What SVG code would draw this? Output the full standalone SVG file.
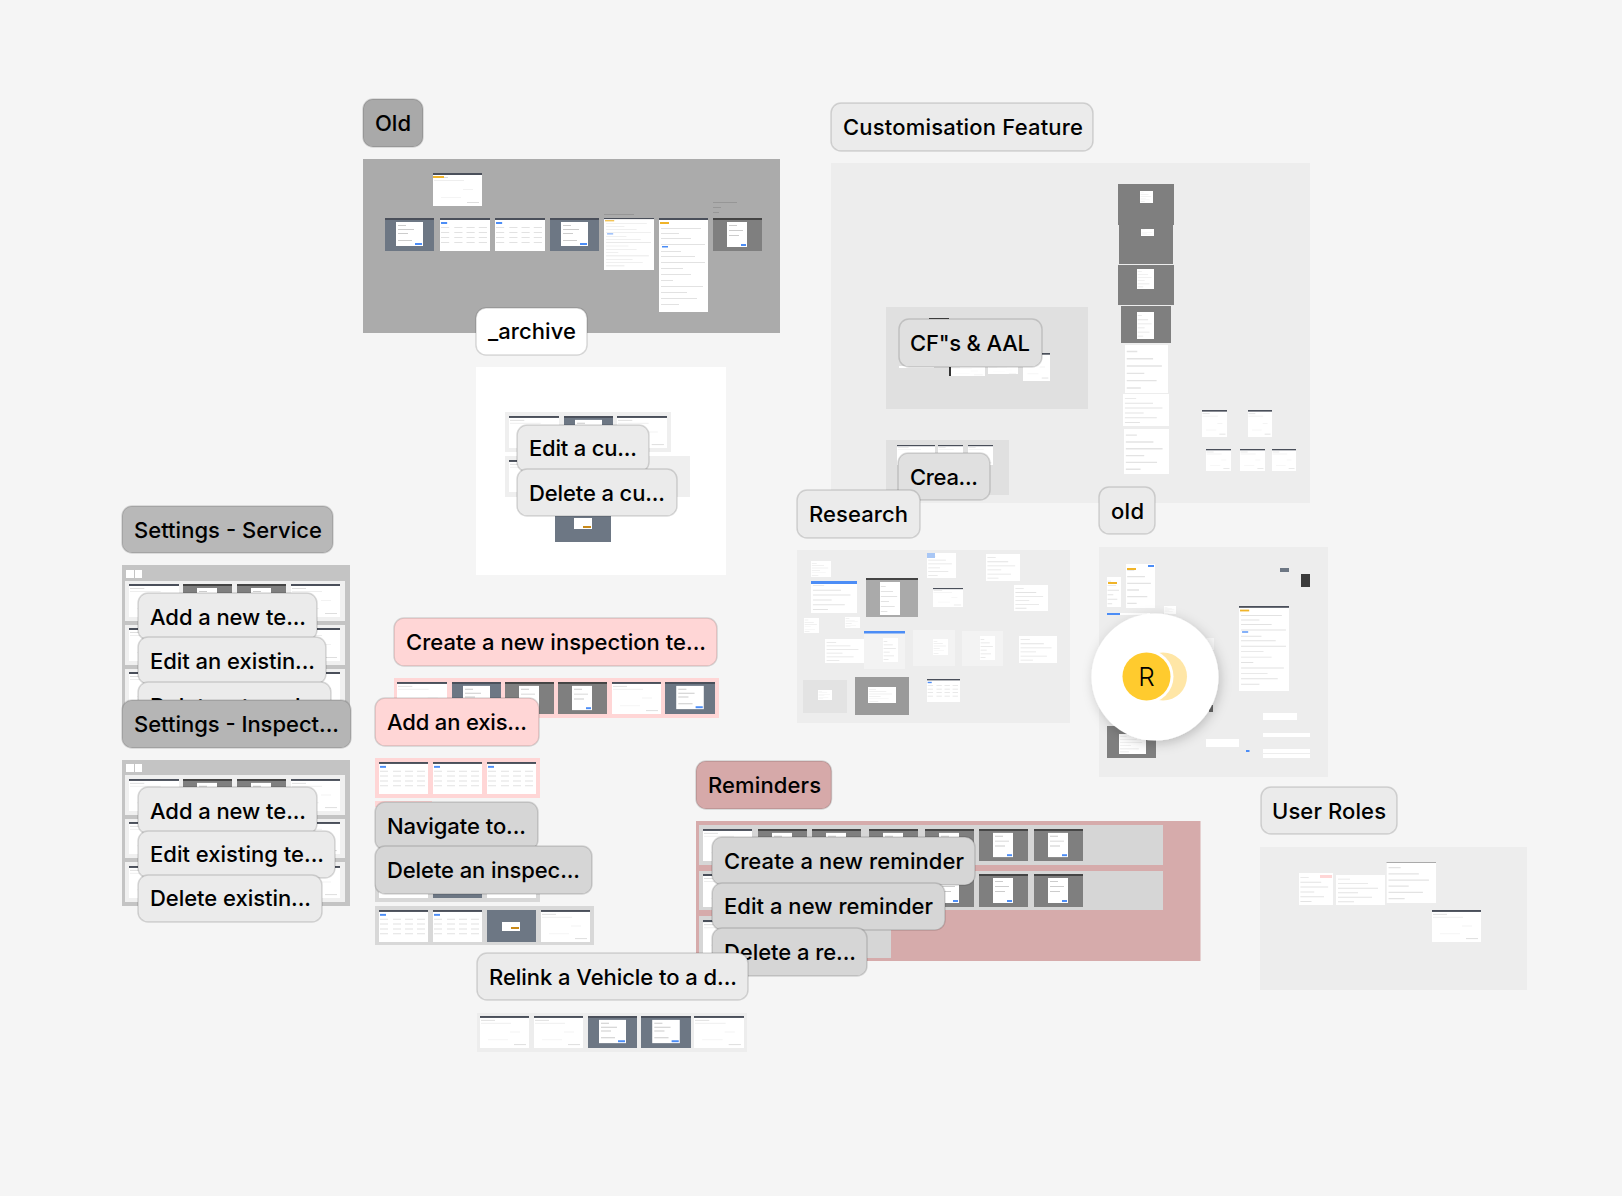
<svg xmlns="http://www.w3.org/2000/svg" width="1622" height="1196" viewBox="0 0 1622 1196">
<style>
text{font-family:Inter,"Liberation Sans",sans-serif;font-size:22px;font-weight:500;fill:#000}
.lb{stroke:#000;stroke-opacity:.14;stroke-width:1.500}
.bar{fill:#4a4f5a}
.ln{fill:#dedede}
.bl{fill:#4c8df6}
</style>
<defs>
<symbol id="lt" viewBox="0 0 49 33" preserveAspectRatio="none">
<rect width="49" height="33" fill="#fff"/><rect width="49" height="2" class="bar"/>
<rect x="1" y="4" width="14" height="1" class="ln"/><rect x="1" y="7" width="30" height="1" fill="#eee"/><rect x="30" y="16" width="10" height="1" fill="#f2f2f2"/><rect x="8" y="24" width="20" height="1" fill="#f4f4f4"/><rect x="34" y="29" width="12" height="1" class="ln"/>
</symbol>
<symbol id="tb" viewBox="0 0 49 33" preserveAspectRatio="none">
<rect width="49" height="33" fill="#fff"/><rect width="49" height="2" class="bar"/>
<rect x="1" y="4" width="6" height="2" class="bl"/>
<path d="M1 9h8v1H1zM14 9h8v1h-8zM26 9h8v1h-8zM38 9h8v1h-8zM1 14h8v1H1zM14 14h8v1h-8zM26 14h8v1h-8zM38 14h8v1h-8zM1 19h8v1H1zM14 19h8v1h-8zM26 19h8v1h-8zM38 19h8v1h-8zM1 24h8v1H1zM14 24h8v1h-8zM26 24h8v1h-8zM38 24h8v1h-8z" fill="#e2e2e2"/>
</symbol>
<symbol id="dk" viewBox="0 0 49 33" preserveAspectRatio="none">
<rect width="49" height="33" fill="#6d7784"/><rect width="49" height="2" fill="#4a4f5a"/>
<rect x="11" y="4" width="27" height="24" fill="#fff"/>
<path d="M13 7h8v1h-8zM13 11h16v1H13zM13 15h10v1H13zM13 22h14v1H13z" fill="#ccc"/>
<rect x="30" y="25" width="7" height="2" class="bl"/>
</symbol>
<symbol id="gy" viewBox="0 0 49 33" preserveAspectRatio="none">
<rect width="49" height="33" fill="#7f7f7f"/><rect width="49" height="2" fill="#444"/>
<rect x="14" y="4" width="20" height="25" fill="#fff"/>
<path d="M16 7h8v1h-8zM16 12h14v1H16zM16 17h10v1H16z" fill="#ccc"/>
<rect x="28" y="26" width="5" height="2" class="bl"/>
</symbol>
<symbol id="pl" viewBox="0 0 49 33" preserveAspectRatio="none">
<rect width="49" height="33" fill="#fff"/>
<path d="M2 4h12v1H2zM2 9h30v1H2zM2 14h40v1H2zM2 19h20v1H2zM2 24h34v1H2zM2 29h16v1H2z" fill="#e3e3e3"/>
</symbol>
<symbol id="lg" viewBox="0 0 49 94" preserveAspectRatio="none">
<rect width="49" height="94" fill="#fff"/><rect width="49" height="2" class="bar"/>
<rect x="1" y="4" width="9" height="2" fill="#f0b429"/>
<path d="M2 10h40v1H2zM2 15h18v1H2zM2 20h30v1H2zM2 26h44v1H2zM2 33h20v1H2zM2 38h34v1H2zM2 44h44v1H2zM2 50h22v1H2zM2 56h30v1H2zM2 62h12v1H2zM2 68h42v1H2zM2 74h26v1H2zM2 80h36v1H2zM2 86h18v1H2z" fill="#e2e2e2"/>
<rect x="3" y="28" width="6" height="1.500" class="bl"/>
</symbol>
<filter id="sh" x="-30%" y="-30%" width="160%" height="160%"><feDropShadow dx="2" dy="3" stdDeviation="6" flood-color="#000" flood-opacity=".2"/></filter>
</defs>
<rect width="1622" height="1196" fill="#f5f5f5"/>

<g id="section-old">
<rect x="363" y="159" width="417" height="174" fill="#ababab"/>
<use href="#lt" x="433" y="173" width="49" height="33"/>
<rect x="433" y="176" width="11" height="2" fill="#f0b429"/>
<use href="#dk" x="385" y="218" width="49" height="33"/>
<use href="#tb" x="440" y="218" width="50" height="33"/>
<use href="#tb" x="495" y="218" width="50" height="33"/>
<use href="#dk" x="550" y="218" width="49" height="33"/>
<use href="#lg" x="604" y="218" width="50" height="52"/>
<use href="#lg" x="659" y="218" width="49" height="94"/>
<use href="#gy" x="713" y="218" width="49" height="33"/>
<path d="M604 214h30v1h-30zM713 202h24v1h-24zM713 207h8v1h-8zM713 212h6v1h-6z" fill="#969696"/>
</g>
<g id="node-old"><rect class="lb" x="363" y="99" width="60" height="48" rx="10" fill="#a9a9a9"/><text x="375" y="131" textLength="36">Old</text></g>

<g id="section-customisation">
<rect x="831" y="163" width="479" height="340" fill="#ededed"/>
<rect x="886" y="307" width="202" height="102" fill="#e0e0e0"/>
<rect x="929" y="318" width="20" height="2" fill="#444"/>
<rect x="899" y="366" width="35" height="2" fill="#fff"/>
<use href="#lt" x="949" y="366" width="36" height="10"/><rect x="949" y="366" width="2" height="10" fill="#333"/>
<use href="#lt" x="988" y="366" width="30" height="8"/>
<use href="#lt" x="1023" y="353" width="27" height="28"/>
<rect x="886" y="440" width="123" height="55" fill="#e0e0e0"/>
<use href="#lt" x="897" y="445" width="38" height="20"/>
<use href="#lt" x="938" y="445" width="25" height="20"/>
<use href="#lt" x="968" y="445" width="25" height="20"/>
<g id="cf-stack">
<rect x="1118" y="184" width="56" height="41" fill="#7f7f7f"/><use href="#pl" x="1140" y="191" width="13" height="12"/>
<rect x="1119" y="225" width="54" height="39" fill="#7f7f7f"/><use href="#pl" x="1141" y="229" width="13" height="7"/>
<rect x="1118" y="265" width="56" height="40" fill="#7f7f7f"/><use href="#pl" x="1137" y="269" width="17" height="20"/>
<rect x="1121" y="306" width="50" height="37" fill="#7f7f7f"/><use href="#pl" x="1137" y="312" width="17" height="27"/>
<use href="#pl" x="1125" y="345" width="43" height="48"/>
<use href="#pl" x="1123" y="394" width="46" height="32"/>
<use href="#pl" x="1124" y="429" width="45" height="45"/>
</g>
<use href="#lt" x="1202" y="410" width="25" height="27"/>
<use href="#lt" x="1248" y="410" width="24" height="27"/>
<use href="#lt" x="1206" y="449" width="25" height="22"/>
<use href="#lt" x="1240" y="449" width="25" height="22"/>
<use href="#lt" x="1272" y="449" width="24" height="22"/>
</g>
<g id="node-customisation"><rect class="lb" x="831" y="103" width="262" height="48" rx="10" fill="#ebebeb"/><text x="843" y="135" textLength="240">Customisation Feature</text></g>
<g id="node-cfs"><rect class="lb" x="899" y="319" width="143" height="48" rx="10" fill="#e0e0e0"/><text x="910" y="351" textLength="120">CF"s &amp; AAL</text></g>
<g id="node-crea"><rect class="lb" x="898" y="453" width="92" height="47" rx="10" fill="#e0e0e0"/><text x="910" y="485" textLength="68">Crea...</text></g>

<g id="section-archive">
<rect x="476" y="367" width="250" height="208" fill="#fff"/>
<rect x="505" y="412" width="166" height="40" fill="#efefef"/>
<use href="#lt" x="509" y="416" width="50" height="32"/>
<use href="#dk" x="564" y="416" width="49" height="32"/>
<use href="#lt" x="617" y="416" width="50" height="32"/>
<rect x="505" y="456" width="185" height="41" fill="#efefef"/>
<use href="#lt" x="509" y="460" width="50" height="32"/>
<rect x="555" y="510" width="56" height="32" fill="#6d7784"/>
<rect x="574" y="518" width="18" height="11" fill="#fff"/><rect x="583" y="526" width="8" height="2" fill="#c98a1a"/>
</g>
<g id="node-archive"><rect class="lb" x="476" y="308" width="111" height="47" rx="10" fill="#fff"/><text x="488" y="339" textLength="88">_archive</text></g>
<g id="node-edit-cu"><rect class="lb" x="517" y="425" width="132" height="47" rx="10" fill="#ebebeb"/><text x="529" y="456" textLength="108">Edit a cu...</text></g>
<g id="node-delete-cu"><rect class="lb" x="517" y="469" width="160" height="47" rx="10" fill="#ebebeb"/><text x="529" y="501" textLength="136">Delete a cu...</text></g>

<g id="section-settings-service">
<rect x="122" y="565" width="228" height="145" fill="#c4c4c4"/>
<rect x="126" y="570" width="8" height="8" fill="#fff"/><rect x="135" y="570" width="7" height="8" fill="#fff"/>
<rect x="125" y="581" width="220" height="40" fill="#f0f0f0"/><rect x="125" y="625" width="220" height="40" fill="#f0f0f0"/><rect x="125" y="669" width="220" height="41" fill="#f0f0f0"/>
<use href="#lt" x="129" y="584" width="50" height="33"/><use href="#gy" x="183" y="584" width="49" height="33"/><use href="#gy" x="237" y="584" width="49" height="33"/><use href="#lt" x="291" y="584" width="49" height="33"/>
<use href="#lt" x="129" y="628" width="50" height="33"/><use href="#lt" x="291" y="628" width="49" height="33"/>
<use href="#lt" x="129" y="672" width="50" height="33"/><use href="#lt" x="291" y="672" width="49" height="33"/>
</g>
<g id="node-settings-service"><rect class="lb" x="122" y="506" width="211" height="47" rx="10" fill="#b8b8b8"/><text x="134" y="538" textLength="188">Settings - Service</text></g>
<g id="node-add-te-1"><rect class="lb" x="138" y="593" width="179" height="47" rx="10" fill="#ebebeb"/><text x="150" y="625" textLength="156">Add a new te...</text></g>
<g id="node-edit-existin"><rect class="lb" x="138" y="637" width="188" height="47" rx="10" fill="#ebebeb"/><text x="150" y="669" textLength="165">Edit an existin...</text></g>
<g id="node-delete-templ"><rect class="lb" x="138" y="682" width="193" height="47" rx="10" fill="#ebebeb"/><text x="150" y="714">Delete a templ...</text></g>
<g id="node-settings-inspect"><rect class="lb" x="122" y="700" width="229" height="48" rx="10" fill="#b5b5b5"/><text x="134" y="732" textLength="205">Settings - Inspect...</text></g>

<g id="section-settings-inspect">
<rect x="122" y="760" width="228" height="146" fill="#c4c4c4"/>
<rect x="126" y="764" width="8" height="8" fill="#fff"/><rect x="135" y="764" width="7" height="8" fill="#fff"/>
<rect x="125" y="775" width="220" height="40" fill="#f0f0f0"/><rect x="125" y="819" width="220" height="39" fill="#f0f0f0"/><rect x="125" y="862" width="220" height="40" fill="#f0f0f0"/>
<use href="#lt" x="129" y="779" width="50" height="32"/><use href="#gy" x="183" y="779" width="49" height="32"/><use href="#gy" x="237" y="779" width="49" height="32"/><use href="#lt" x="291" y="779" width="49" height="32"/>
<use href="#lt" x="129" y="822" width="50" height="32"/><use href="#lt" x="291" y="822" width="49" height="32"/>
<use href="#lt" x="129" y="866" width="50" height="32"/><use href="#lt" x="291" y="866" width="49" height="32"/>
</g>
<g id="node-add-te-2"><rect class="lb" x="138" y="787" width="179" height="47" rx="10" fill="#ebebeb"/><text x="150" y="819" textLength="156">Add a new te...</text></g>
<g id="node-edit-existing"><rect class="lb" x="138" y="831" width="197" height="47" rx="10" fill="#ebebeb"/><text x="150" y="862" textLength="174">Edit existing te...</text></g>
<g id="node-delete-existin"><rect class="lb" x="138" y="875" width="184" height="47" rx="10" fill="#ebebeb"/><text x="150" y="906" textLength="161">Delete existin...</text></g>

<g id="section-create-inspection">
<rect x="394" y="678" width="325" height="40" fill="#ffd6d6"/>
<use href="#lt" x="397" y="682" width="50" height="32"/><use href="#dk" x="452" y="682" width="49" height="32"/><use href="#gy" x="505" y="682" width="49" height="32"/><use href="#gy" x="558" y="682" width="49" height="32"/><use href="#lt" x="612" y="682" width="49" height="32"/><use href="#dk" x="665" y="682" width="50" height="32"/>
</g>
<g id="node-create-inspection"><rect class="lb" x="394" y="618" width="323" height="48" rx="10" fill="#ffd6d6"/><text x="406" y="650" textLength="300">Create a new inspection te...</text></g>
<g id="section-add-exis">
<rect x="375" y="758" width="165" height="40" fill="#ffd6d6"/>
<use href="#tb" x="379" y="762" width="49" height="32"/><use href="#tb" x="433" y="762" width="49" height="32"/><use href="#tb" x="487" y="762" width="49" height="32"/>
<rect x="375" y="801" width="57" height="6" fill="#ffd6d6"/>
</g>
<g id="node-add-exis"><rect class="lb" x="375" y="698" width="164" height="48" rx="10" fill="#ffd6d6"/><text x="387" y="730" textLength="140">Add an exis...</text></g>
<g id="section-delete-inspec">
<rect x="375" y="880" width="165" height="22" fill="#d8d8d8"/>
<rect x="379" y="880" width="49" height="18" fill="#fff"/><rect x="433" y="880" width="49" height="18" fill="#6d7784"/><rect x="487" y="880" width="49" height="18" fill="#fff"/>
<rect x="375" y="906" width="219" height="39" fill="#d8d8d8"/>
<use href="#tb" x="379" y="910" width="49" height="32"/><use href="#tb" x="433" y="910" width="49" height="32"/><rect x="487" y="910" width="49" height="32" fill="#6d7784"/><use href="#lt" x="541" y="910" width="49" height="32"/>
<rect x="502" y="922" width="18" height="9" fill="#fff"/><rect x="511" y="927" width="8" height="2" fill="#c98a1a"/>
</g>
<g id="node-navigate"><rect class="lb" x="375" y="802" width="163" height="48" rx="10" fill="#d6d6d6"/><text x="387" y="834" textLength="139">Navigate to...</text></g>
<g id="node-delete-inspec"><rect class="lb" x="375" y="846" width="217" height="48" rx="10" fill="#d6d6d6"/><text x="387" y="878" textLength="193">Delete an inspec...</text></g>

<g id="section-reminders">
<rect x="696" y="821" width="504.500" height="140" fill="#d6abab"/>
<rect x="699" y="825" width="464" height="40" fill="#d6d6d6"/><rect x="699" y="871" width="464" height="39" fill="#d6d6d6"/><rect x="699" y="916" width="192" height="42" fill="#d6d6d6"/>
<use href="#lt" x="703" y="829" width="49" height="32"/><use href="#gy" x="758" y="829" width="49" height="32"/><use href="#gy" x="812" y="829" width="49" height="32"/><use href="#gy" x="869" y="829" width="49" height="32"/><use href="#gy" x="925" y="829" width="49" height="32"/><use href="#gy" x="979" y="829" width="49" height="32"/><use href="#gy" x="1034" y="829" width="49" height="32"/>
<use href="#lt" x="703" y="874" width="49" height="33"/><use href="#gy" x="925" y="874" width="49" height="33"/><use href="#gy" x="979" y="874" width="49" height="33"/><use href="#gy" x="1034" y="874" width="49" height="33"/>
<use href="#lt" x="703" y="920" width="49" height="34"/>
</g>
<g id="node-reminders"><rect class="lb" x="696" y="761" width="135.500" height="48" rx="10" fill="#d6a9a9"/><text x="708" y="793" textLength="113">Reminders</text></g>
<g id="node-create-reminder"><rect class="lb" x="712" y="837" width="263" height="48" rx="10" fill="#d6d6d6"/><text x="724" y="869" textLength="240">Create a new reminder</text></g>
<g id="node-edit-reminder"><rect class="lb" x="712" y="883" width="233" height="47" rx="10" fill="#d6d6d6"/><text x="724" y="914" textLength="209">Edit a new reminder</text></g>
<g id="node-delete-reminder"><rect class="lb" x="712" y="928" width="155" height="48" rx="10" fill="#d6d6d6"/><text x="724" y="960" textLength="132">Delete a re...</text></g>

<g id="section-relink">
<rect x="477" y="1013" width="270" height="39" fill="#ededed"/>
<use href="#lt" x="480" y="1016" width="49" height="32"/><use href="#lt" x="534" y="1016" width="49" height="32"/><use href="#dk" x="588" y="1016" width="49" height="32"/><use href="#dk" x="641" y="1016" width="50" height="32"/><use href="#lt" x="694" y="1016" width="50" height="32"/>
</g>
<g id="node-relink"><rect class="lb" x="477" y="953" width="271" height="47" rx="10" fill="#ebebeb"/><text x="489" y="985" textLength="248">Relink a Vehicle to a d...</text></g>

<g id="section-research">
<rect x="797" y="550" width="273" height="173" fill="#ededed"/>
<use href="#pl" x="811" y="561" width="20" height="16"/>
<use href="#pl" x="811" y="581" width="46" height="32"/><rect x="811" y="581" width="46" height="3" class="bl"/>
<rect x="866" y="578" width="52" height="39" fill="#aaa"/><rect x="866" y="578" width="52" height="2" fill="#444"/><use href="#pl" x="880" y="582" width="20" height="33"/>
<use href="#pl" x="927" y="553" width="29" height="25"/><rect x="927" y="553" width="8" height="5" fill="#a9c7f5"/>
<use href="#pl" x="986" y="554" width="34" height="27"/>
<use href="#lt" x="933" y="588" width="30" height="19"/>
<use href="#pl" x="1014" y="585" width="34" height="26"/>
<use href="#pl" x="804" y="618" width="15" height="15"/>
<use href="#pl" x="845" y="617" width="15" height="11"/>
<use href="#pl" x="825" y="639" width="39" height="24"/>
<rect x="864" y="631" width="41" height="38" fill="#f3f3f3"/><rect x="864" y="631" width="41" height="2.500" class="bl"/><use href="#pl" x="883" y="638" width="15" height="24"/>
<rect x="913" y="630" width="42" height="36" fill="#f3f3f3"/><use href="#pl" x="933" y="639" width="15" height="16"/>
<rect x="962" y="631" width="41" height="35" fill="#f3f3f3"/><use href="#pl" x="980" y="636" width="15" height="24"/>
<use href="#pl" x="1019" y="636" width="38" height="27"/>
<rect x="803" y="680" width="44" height="33" fill="#e3e3e3"/><use href="#pl" x="818" y="690" width="14" height="10"/>
<rect x="855" y="677" width="54" height="38" fill="#9a9a9a"/><use href="#pl" x="868" y="687" width="28" height="16"/>
<use href="#tb" x="927" y="679" width="33" height="23"/>
</g>
<g id="node-research"><rect class="lb" x="797" y="490" width="123" height="48" rx="10" fill="#ebebeb"/><text x="809" y="522" textLength="99">Research</text></g>

<g id="section-old-2">
<rect x="1099" y="547" width="229" height="230" fill="#ededed"/>
<use href="#pl" x="1107" y="577" width="14" height="30"/><rect x="1108" y="582" width="9" height="2" fill="#f0b429"/>
<use href="#pl" x="1126" y="564" width="29" height="44"/><rect x="1127" y="568" width="9" height="2" fill="#f0b429"/><rect x="1148" y="565" width="6" height="2" class="bl"/>
<rect x="1107" y="613" width="13" height="2" class="bl"/><rect x="1120" y="613" width="30" height="2" fill="#fff"/>
<use href="#pl" x="1164" y="606" width="12" height="8"/>
<rect x="1280" y="568" width="9" height="4" fill="#6d7784"/>
<rect x="1301" y="574" width="9" height="13" fill="#3a3a3a"/>
<use href="#lg" x="1239" y="606" width="50" height="85"/>
<rect x="1206" y="638" width="8" height="12" fill="#f9f9f9"/>
<rect x="1209" y="705" width="4" height="7" fill="#666"/>
<rect x="1107" y="726" width="49" height="32" fill="#7f7f7f"/><use href="#pl" x="1119" y="734" width="27" height="20"/>
<rect x="1206" y="739" width="33" height="8" fill="#fff"/>
<rect x="1263" y="713" width="34" height="7" fill="#fff"/>
<rect x="1246" y="750" width="3.500" height="2" class="bl"/>
<rect x="1263" y="733" width="47" height="4" fill="#fff"/><rect x="1263" y="749" width="47" height="4" fill="#fff"/><rect x="1263" y="754" width="47" height="4" fill="#fff"/>
</g>
<g id="node-old-2"><rect class="lb" x="1099" y="487" width="56" height="47" rx="10" fill="#ebebeb"/><text x="1111" y="519" textLength="33">old</text></g>

<g id="section-user-roles">
<rect x="1260" y="847" width="267" height="143" fill="#ededed"/>
<use href="#pl" x="1299" y="873" width="34" height="32"/><rect x="1320" y="875" width="12" height="3" fill="#ffd6d6"/>
<use href="#pl" x="1336" y="875" width="49" height="30"/>
<use href="#pl" x="1386.500" y="862" width="49.500" height="41"/><rect x="1386.500" y="862" width="49.500" height="1" fill="#aaa"/>
<use href="#lt" x="1432" y="910" width="49" height="32"/>
</g>
<g id="node-user-roles"><rect class="lb" x="1261" y="787" width="136" height="47" rx="10" fill="#ebebeb"/><text x="1272" y="819" textLength="114">User Roles</text></g>

<g id="avatar">
<circle cx="1155" cy="677" r="63.500" fill="#fff" filter="url(#sh)"/>
<circle cx="1163" cy="676.500" r="24" fill="#ffe6a6"/>
<circle cx="1146.500" cy="676.500" r="27" fill="#fff"/>
<circle cx="1146.500" cy="676.500" r="24" fill="#ffcb2e"/>
<text x="1146.500" y="686" text-anchor="middle" style="font-size:26px;font-weight:300">R</text>
</g>
</svg>
